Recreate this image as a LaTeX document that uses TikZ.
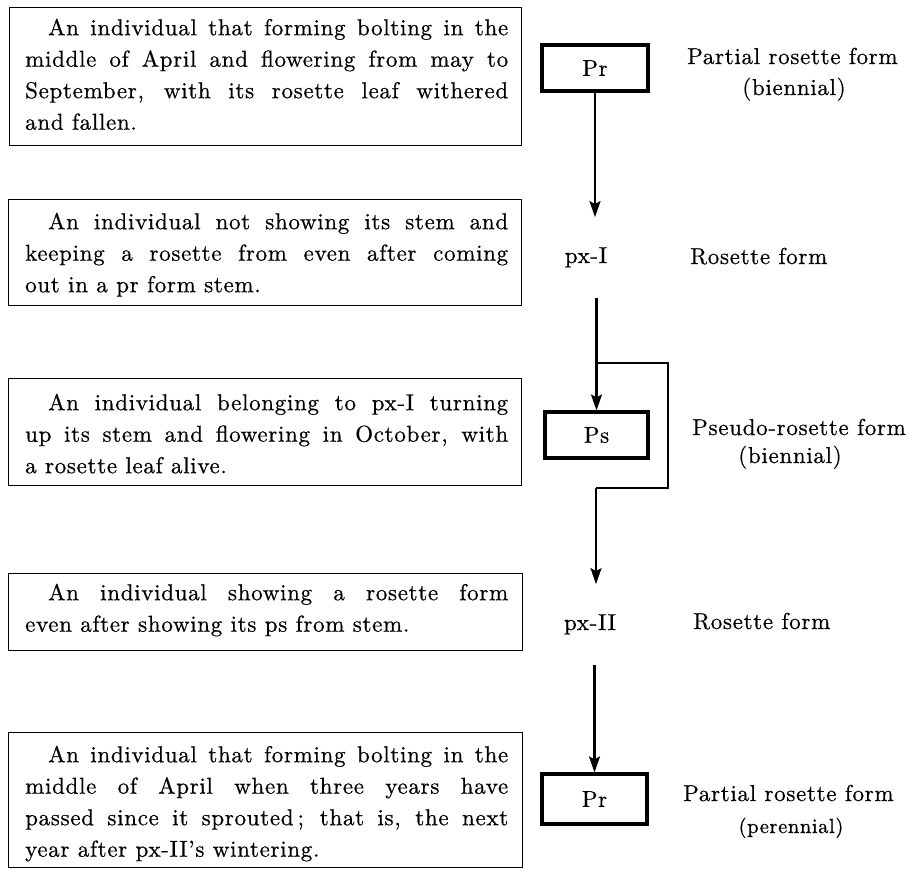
\documentclass[tikz,border=0pt]{standalone}
\usepackage{fontspec}
\setmainfont{lmroman10-regular.otf}[LetterSpace=3, FakeBold=0.6]
\newfontfamily\labelfont{lmroman10-regular.otf}[LetterSpace=3, FakeBold=0.6]
\usetikzlibrary{arrows.meta}
\tikzset{
  tframe/.style={draw, line width=1.4pt, inner sep=0pt, anchor=north west},
  ttext/.style={anchor=north west, inner sep=0pt, font=\fontsize{23}{31.5}\selectfont},
  formbox/.style={draw, line width=3.2pt, inner sep=0pt, line join=miter,
    font=\fontsize{23}{27}\selectfont},
  pxlabel/.style={inner xsep=0pt, inner ysep=30pt, anchor=base, font=\fontsize{23}{27}\selectfont},
  rlabel/.style={inner sep=0pt, font=\labelfont\fontsize{23}{27}\selectfont},
  slabel/.style={inner sep=0pt, font=\labelfont\fontsize{20.5}{24}\selectfont},
  conn/.style={line width=2.2pt, line join=miter},
  flow/.style={conn, -{Stealth[length=16pt, width=11pt, inset=3pt]}}
}
\newcommand{\para}[1]{\parbox[t]{483pt}{\tolerance=10000\strut #1}}
\begin{document}
\begin{tikzpicture}[x=1pt, y=-1pt]
\useasboundingbox (0,0) rectangle (915,871);

% description frames
\node[tframe, minimum width=512pt, minimum height=138pt] (f1) at (9,7) {};
\node[tframe, minimum width=513pt, minimum height=106pt] (f2) at (8,199) {};
\node[tframe, minimum width=513pt, minimum height=107pt] (f3) at (8,378) {};
\node[tframe, minimum width=514pt, minimum height=77pt] (f4) at (8,573) {};
\node[tframe, minimum width=514pt, minimum height=135pt] (f5) at (8,732) {};

% description texts
\node[ttext] (d1) at (25,12.95) {\para{\hspace*{23pt}An individual that forming bolting in the\linebreak
 middle of April and flowering from may to\linebreak
 September, with its rosette leaf withered\linebreak
 and fallen.}};
\node[ttext] (d2) at (25,206.95) {\para{\hspace*{23pt}An individual not showing its stem and\linebreak
 keeping a rosette from even after coming\linebreak
 out in a pr form stem.}};
\node[ttext] (d3) at (25,387.95) {\para{\hspace*{23pt}An individual belonging to px-I turning\linebreak
 up its stem and flowering in October, with\linebreak
 a rosette leaf alive.}};
\node[ttext] (d4) at (25,577.95) {\para{\hspace*{23pt}An individual showing a rosette form\linebreak
 even after showing its ps from stem.}};
\node[ttext] (d5) at (25,739.95) {\para{\hspace*{23pt}An individual that forming bolting in the\linebreak
 middle of April when three years have\linebreak
 passed since it sprouted\kern4pt; that is, the next\linebreak
 year after px-II's wintering.}};

% middle column
\node[formbox, minimum width=106pt, minimum height=46pt] (pr1) at (595,68) {Pr};
\node[pxlabel] (px1) at (586,263) {px-I};
\node[formbox, minimum width=103pt, minimum height=46pt] (ps) at (596.5,435) {Ps};
\node[pxlabel] (px2) at (590,630) {px-II};
\node[formbox, minimum width=105pt, minimum height=50pt] (pr2) at (594.5,799) {Pr};

% right labels
\node[rlabel, anchor=base west] (l1a) at (687,64) {Partial rosette form};
\node[rlabel, anchor=base] (l1b) at (794,95) {(biennial)};
\node[rlabel, anchor=base west] (l2) at (690,264) {Rosette form};
\node[rlabel, anchor=base west] (l3a) at (692,435) {Pseudo-rosette form};
\node[rlabel, anchor=base] (l3b) at (790,463) {(biennial)};
\node[rlabel, anchor=base west] (l4) at (693,629) {Rosette form};
\node[rlabel, anchor=base west] (l5a) at (683,801) {Partial rosette form};
\node[slabel, anchor=base] (l5b) at (791,833) {(perennial)};

% connectors
\coordinate (j1) at (596,363);
\coordinate (jr1) at (668,363);
\coordinate (jr2) at (668,488);
\coordinate (j2) at (596,488);

\draw[flow] (pr1.south) -- (pr1.south |- px1.north);
\draw[flow] (ps.north |- px1.south) -- (ps.north);
\draw[conn] (j1) -- (jr1) -- (jr2) -- (j2);
\draw[flow] (j2) -- (j2 |- px2.north);
\draw[flow] (pr2.north |- px2.south) -- (pr2.north);
\end{tikzpicture}
\end{document}
